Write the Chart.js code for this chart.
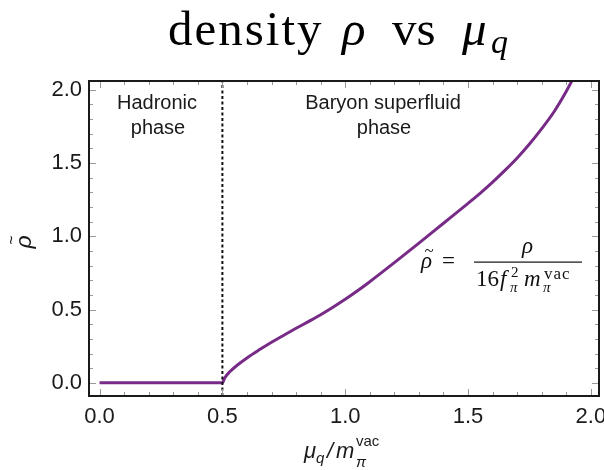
<!DOCTYPE html>
<html>
<head>
<meta charset="utf-8">
<script src="https://cdn.jsdelivr.net/npm/chart.js@4/dist/chart.umd.min.js"></script>
<style>
html,body{margin:0;padding:0;background:#fff;overflow:hidden;width:604px;height:470px;}
#wrap{position:relative;width:620px;height:470px;}
canvas{position:absolute;left:0;top:0;}
</style>
</head>
<body>
<div id="wrap"><canvas id="c" width="620" height="470"></canvas></div>
<script>
// ---- data ----
const muq = [0, 0.5, 0.51, 0.53, 0.56, 0.6, 0.65, 0.7, 0.75, 0.8, 0.85, 0.9, 0.95, 1.0, 1.05, 1.1, 1.2, 1.3, 1.4, 1.5, 1.55, 1.6, 1.65, 1.7, 1.75, 1.8, 1.85, 1.9, 1.95];
const rhoTilde = [0, 0, 0.035, 0.075, 0.12, 0.17, 0.225, 0.277, 0.325, 0.372, 0.418, 0.465, 0.516, 0.57, 0.628, 0.69, 0.82, 0.953, 1.089, 1.225, 1.295, 1.37, 1.45, 1.535, 1.63, 1.735, 1.85, 1.99, 2.15];
const xTicks = [0, 0.5, 1.0, 1.5, 2.0];
const yTicks = [0, 0.5, 1.0, 1.5, 2.0];
const phaseBoundary = 0.5;
const X_RANGE = [-0.043, 2.033];
const Y_RANGE = [-0.09, 2.06];

const PURPLE = '#772b87';
const TXT = '#1a1a1a';

function drawText(ctx, t, x, y, font, align) {
  ctx.font = font;
  ctx.textAlign = align || 'left';
  ctx.textBaseline = 'alphabetic';
  ctx.fillText(t, x, y);
}

const framePlugin = {
  id: 'frame',
  afterDatasetsDraw(chart) {
    const ctx = chart.ctx;
    const {left, right, top, bottom} = chart.chartArea;
    const xs = chart.scales.x, ys = chart.scales.y;
    ctx.save();
    ctx.strokeStyle = '#9a9a9a';
    ctx.lineWidth = 1;
    for (let i = 0; i <= 20; i++) {
      const v = i / 10;
      const len = (i % 5 === 0) ? 7 : 4;
      const px = Math.round(xs.getPixelForValue(v)) + 0.5;
      ctx.beginPath();
      ctx.moveTo(px, bottom); ctx.lineTo(px, bottom - len);
      ctx.moveTo(px, top); ctx.lineTo(px, top + len);
      ctx.stroke();
      if (v <= Y_RANGE[1]) {
        const py = Math.round(ys.getPixelForValue(v)) + 0.5;
        ctx.beginPath();
        ctx.moveTo(left, py); ctx.lineTo(left + len, py);
        ctx.moveTo(right, py); ctx.lineTo(right - len, py);
        ctx.stroke();
      }
    }
    ctx.strokeStyle = '#1a1a1a';
    ctx.lineWidth = 2;
    ctx.strokeRect(left, top, right - left, bottom - top);
    ctx.restore();
  }
};

const textPlugin = {
  id: 'texts',
  afterDraw(chart) {
    const ctx = chart.ctx;
    ctx.save();
    ctx.fillStyle = '#000';
    // title
    ctx.letterSpacing = '2px';
    drawText(ctx, 'density', 168, 45, '49px "Liberation Serif"');
    ctx.letterSpacing = '0px';
    drawText(ctx, 'ρ', 342, 45, 'italic 49px "Liberation Serif"');
    drawText(ctx, 'vs', 392, 45, '49px "Liberation Serif"');
    drawText(ctx, 'μ', 462, 45, 'italic 49px "Liberation Serif"');
    drawText(ctx, 'q', 491, 53, 'italic 34px "Liberation Serif"');

    // phase labels
    ctx.fillStyle = TXT;
    drawText(ctx, 'Hadronic', 157, 109, '20px "Liberation Sans"', 'center');
    drawText(ctx, 'phase', 158, 134, '20px "Liberation Sans"', 'center');
    drawText(ctx, 'Baryon superfluid', 383, 109, '20px "Liberation Sans"', 'center');
    drawText(ctx, 'phase', 384, 134, '20px "Liberation Sans"', 'center');

    // formula
    ctx.fillStyle = '#111';
    drawText(ctx, 'ρ', 421, 268, 'italic 23px "Liberation Serif"');
    drawText(ctx, '~', 429, 256, '17px "Liberation Serif"', 'center');
    drawText(ctx, '=', 442, 268, '23px "Liberation Serif"');
    drawText(ctx, 'ρ', 522, 253, 'italic 23px "Liberation Serif"');
    ctx.fillRect(474, 261.5, 108, 1.2);
    drawText(ctx, '16', 476, 286, '23px "Liberation Serif"');
    drawText(ctx, 'f', 500, 286, 'italic 23px "Liberation Serif"');
    drawText(ctx, '2', 511, 277, '15px "Liberation Serif"');
    drawText(ctx, 'π', 510, 292, 'italic 15px "Liberation Serif"');
    drawText(ctx, 'm', 524, 286, 'italic 23px "Liberation Serif"');
    ctx.letterSpacing = '1px';
    drawText(ctx, 'vac', 544, 279, '17px "Liberation Serif"');
    ctx.letterSpacing = '0px';
    drawText(ctx, 'π', 543, 292, 'italic 15px "Liberation Serif"');

    // axis titles
    ctx.fillStyle = TXT;
    drawText(ctx, 'μ', 304, 458, 'italic 22px "Liberation Sans"');
    drawText(ctx, 'q', 316, 463, 'italic 15px "Liberation Sans"');
    drawText(ctx, '/', 327, 458, 'italic 22px "Liberation Sans"');
    drawText(ctx, 'm', 336, 458, 'italic 22px "Liberation Sans"');
    drawText(ctx, 'vac', 356, 446, '15px "Liberation Sans"');
    drawText(ctx, 'π', 356, 467, 'italic 15px "Liberation Sans"');

    ctx.translate(31, 242);
    ctx.rotate(-Math.PI / 2);
    drawText(ctx, 'ρ', 0, 0, 'italic 23px "Liberation Sans"', 'center');
    drawText(ctx, '~', 2, -14, '16px "Liberation Sans"', 'center');
    ctx.restore();
  }
};

const tickFont = {family: '"Liberation Sans", Arial, sans-serif', size: 22};

new Chart(document.getElementById('c'), {
  type: 'line',
  data: {
    datasets: [
      {
        data: [{x: phaseBoundary, y: Y_RANGE[0]}, {x: phaseBoundary, y: Y_RANGE[1]}],
        borderColor: '#111', borderWidth: 2, borderDash: [3, 2.5],
        pointRadius: 0, fill: false, order: 0
      },
      {
        data: muq.map((x, i) => ({x: x, y: rhoTilde[i]})),
        borderColor: PURPLE, borderWidth: 3, pointRadius: 0, fill: false,
        cubicInterpolationMode: 'monotone', order: 1
      }
    ]
  },
  options: {
    responsive: false,
    animation: false,
    events: [],
    layout: {padding: {top: 81, right: 21, left: 0, bottom: 0}},
    plugins: {legend: {display: false}, tooltip: {enabled: false}, title: {display: false}},
    scales: {
      x: {
        type: 'linear', min: X_RANGE[0], max: X_RANGE[1],
        grid: {display: false, drawTicks: false},
        border: {display: false},
        ticks: {font: tickFont, color: TXT, padding: 8, maxRotation: 0, autoSkip: false,
                callback: v => Number(v).toFixed(1)},
        afterBuildTicks: s => { s.ticks = xTicks.map(v => ({value: v})); },
        afterFit: s => { s.height = 74; }
      },
      y: {
        type: 'linear', min: Y_RANGE[0], max: Y_RANGE[1],
        grid: {display: false, drawTicks: false},
        border: {display: false},
        ticks: {font: tickFont, color: TXT, padding: 7, autoSkip: false,
                callback: v => Number(v).toFixed(1)},
        afterBuildTicks: s => { s.ticks = yTicks.map(v => ({value: v})); },
        afterFit: s => { s.width = 89; }
      }
    }
  },
  plugins: [framePlugin, textPlugin]
});
</script>
</body>
</html>
